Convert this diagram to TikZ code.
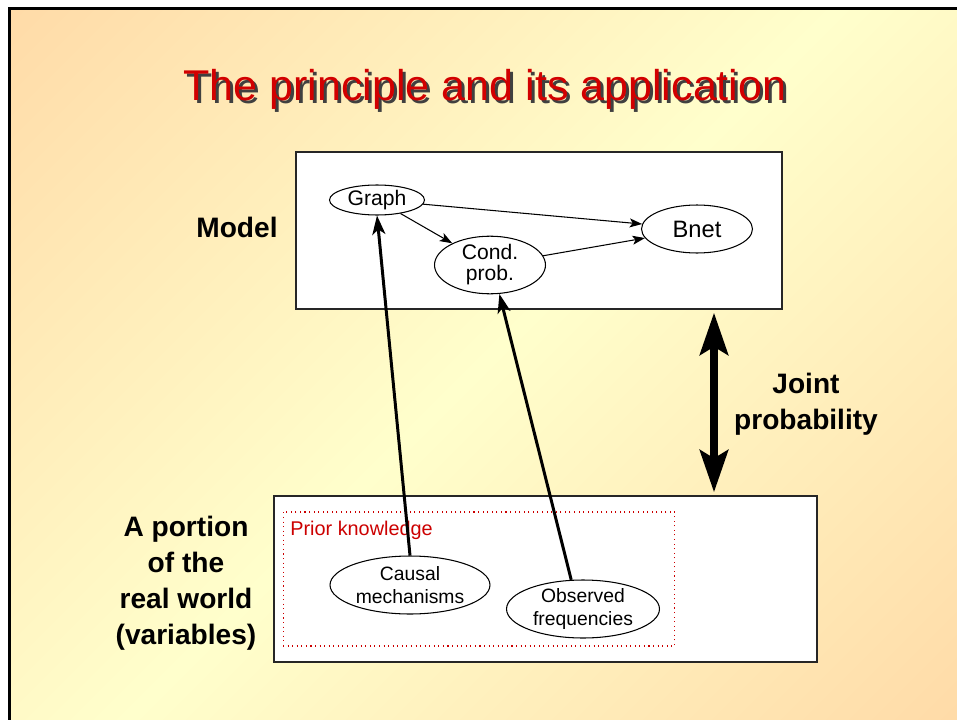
\documentclass[tikz,border=0pt]{standalone}
\usepackage{fontspec}
\setmainfont{Liberation Sans}
\usetikzlibrary{arrows.meta}
\usetikzlibrary{calc}
\usetikzlibrary{positioning}
\usetikzlibrary{shapes.geometric}

\definecolor{bgorange}{RGB}{255,204,153}
\definecolor{bgyellow}{RGB}{255,255,204}
\definecolor{titlered}{RGB}{210,0,0}
\definecolor{priorred}{RGB}{204,0,0}
\pgfdeclarehorizontalshading{slidebg}{100bp}{color(0bp)=(bgorange); color(50bp)=(bgyellow); color(100bp)=(bgorange)}

\tikzset{
	box/.style={draw=black!85, line width=0.8pt, fill=white, inner sep=0pt},
	var/.style={ellipse, draw, line width=0.6pt, fill=white, inner sep=0pt, align=center},
	side/.style={font=\fontsize{16}{20.5}\selectfont\bfseries, align=center},
	thinarrow/.style={line width=0.6pt, -{Stealth[length=0.25cm,width=0.18cm,inset=0.06cm]}},
	thickarrow/.style={line width=1.7pt, -{Stealth[length=0.38cm,width=0.26cm,inset=0.1cm]}},
	bigarrow/.style={line width=4.5pt, {Stealth[length=0.84cm,width=0.56cm,inset=0.16cm]}-{Stealth[length=0.84cm,width=0.56cm,inset=0.16cm]}},
}

\begin{document}
\begin{tikzpicture}[x=0.02cm, y=-0.02cm]
		\useasboundingbox (0,0) rectangle (957,720);
		\clip (0,0) rectangle (957,720);
		\fill[white] (0,0) rectangle (957,720);
		% slide background and frame
		\shade[shading=slidebg, shading angle=-45] (9,8) rectangle (957,720);
		\draw[line width=1.7pt] (9.5,720) -- (9.5,8.5) -- (957,8.5);

		% title with its shadow
		\node (titleshadow) at (488,92) [text=black!75, font=\fontsize{24.5}{29}\selectfont] {The principle and its application};
		\node (title) at (485,89) [text=titlered, font=\fontsize{24.5}{29}\selectfont] {The principle and its application};

		% the model
		\node (model) at (539,230.5) [box, minimum width=9.72cm, minimum height=3.14cm] {};
		\node (modellabel) at (237,227) [side] {Model};
		\node (graph) at (377,200) [var, minimum width=1.9cm, minimum height=0.6cm, font=\fontsize{12}{14}\selectfont] {Graph};
		\node (cond) at (490,265) [var, minimum width=2.22cm, minimum height=1.08cm, font=\fontsize{12}{12}\selectfont] {Cond.\\prob.};
		\node (bnet) at (697,229) [var, minimum width=2.22cm, minimum height=0.96cm, font=\fontsize{13.5}{16}\selectfont] {Bnet};
		\draw[thinarrow] (graph) -- (bnet);
		\draw[thinarrow] (graph) -- (cond);
		\draw[thinarrow] (cond) -- (bnet);

		% the real world
		\node (world) at (545.5,579) [box, minimum width=10.86cm, minimum height=3.32cm] {};
		\node (worldlabel) at (186,583.5) [side] {A portion\\of the\\real world\\(variables)};
		\node (prior) at (479,579) [draw=priorred, dotted, line width=0.6pt, minimum width=7.84cm, minimum height=2.68cm] {};
		\node (priorlabel) at (290,530) [anchor=west, inner sep=0pt, text=priorred, font=\fontsize{11.3}{13}\selectfont] {Prior knowledge};
		\node (causal) at (410,585) [var, minimum width=3.2cm, minimum height=1.16cm, font=\fontsize{11}{13}\selectfont] {Causal\\mechanisms};
		\node (observed) at (583,609) [var, minimum width=3.06cm, minimum height=1.16cm, font=\fontsize{11}{13}\selectfont] {Observed\\frequencies};
		\draw[thickarrow] (causal.north) -- (graph.south);
		\draw[thickarrow] (observed.112) -- (cond.-72);

		% joint probability between the two
		\coordinate (jx) at (714,0);
		\draw[bigarrow] ([yshift=-0.06cm]model.south -| jx) -- ([yshift=0.06cm]world.north -| jx);
		\node (joint) at (806,404) [side] {Joint\\probability};
	\end{tikzpicture}
\end{document}
